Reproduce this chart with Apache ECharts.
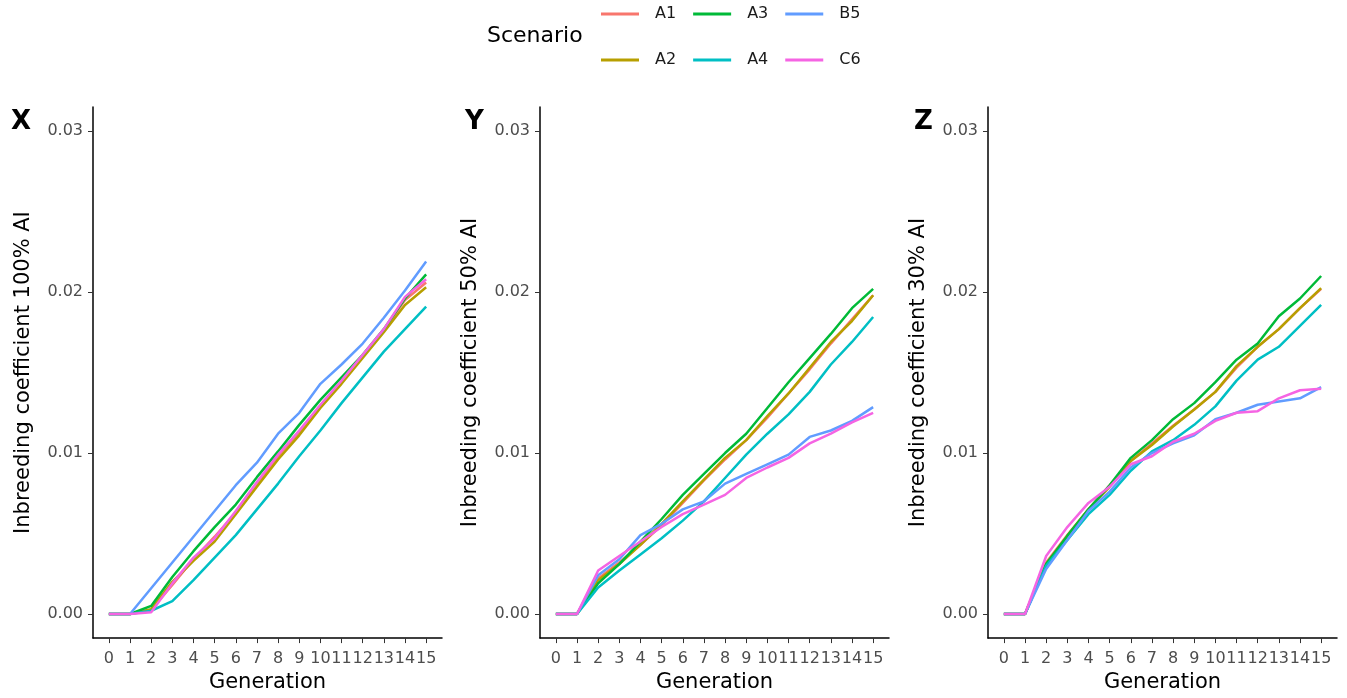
<!DOCTYPE html>
<html><head><meta charset="utf-8">
<script src="https://cdn.jsdelivr.net/npm/echarts@6/dist/echarts.min.js"></script>
<style>html,body{margin:0;padding:0;background:#fff}#c{width:1347px;height:698px}</style>
</head><body><div id="c"></div>
<script>
const generations = [0,1,2,3,4,5,6,7,8,9,10,11,12,13,14,15];
const scenarios = ['A1','A2','A3','A4','B5','C6'];
const scenarioColors = ['#F8766D','#B79F00','#00BA38','#00BFC4','#619CFF','#F564E3'];
const panelLetters = ['X','Y','Z'];
const yTitles = ['Inbreeding coefficient 100% AI','Inbreeding coefficient 50% AI','Inbreeding coefficient 30% AI'];
const yTickValues = [0, 0.01, 0.02, 0.03];
const xTitle = 'Generation';
const legendTitle = 'Scenario';

// Panel X (100% AI)
const X_A1 = [0,0,0.00025,0.0018,0.0034,0.0048,0.0063,0.0081,0.0098,0.0113,0.0129,0.0144,0.0160,0.0176,0.0195,0.0206];
const X_A2 = [0,0,0.0003,0.0020,0.0033,0.0045,0.0062,0.0079,0.0096,0.0111,0.0128,0.0143,0.0159,0.0175,0.0192,0.0203];
const X_A3 = [0,0,0.0005,0.0023,0.0039,0.0054,0.0068,0.0085,0.0101,0.01175,0.0133,0.0147,0.0161,0.0177,0.0196,0.0211];
const X_A4 = [0,0,0.0002,0.0008,0.0021,0.0035,0.0049,0.0065,0.0081,0.0098,0.0114,0.0131,0.0147,0.0163,0.0177,0.0191];
const X_B5 = [0,0,0.0016,0.0032,0.0048,0.0064,0.0080,0.0094,0.0112,0.0125,0.0143,0.0155,0.0168,0.0184,0.0201,0.0219];
const X_C6 = [0,0,0.0001,0.0019,0.0035,0.0047,0.0064,0.0082,0.0099,0.0114,0.0130,0.0145,0.0161,0.0177,0.0197,0.0208];

// Panel Y (50% AI)
const Y_A1 = [0,0,0.0022,0.0032,0.0043,0.0055,0.0069,0.0083,0.0096,0.0108,0.0122,0.0137,0.0152,0.0168,0.0183,0.0198];
const Y_A2 = [0,0,0.0021,0.0031,0.0043,0.0056,0.0070,0.00835,0.0097,0.0108,0.0123,0.0137,0.0153,0.0169,0.0182,0.0198];
const Y_A3 = [0,0,0.0019,0.0031,0.0045,0.0059,0.0074,0.0087,0.0100,0.0112,0.0128,0.0144,0.0159,0.0174,0.0190,0.0202];
const Y_A4 = [0,0,0.00165,0.0027,0.0037,0.0047,0.0058,0.0070,0.00845,0.0099,0.0112,0.0124,0.0138,0.0155,0.0169,0.01845];
const Y_B5 = [0,0,0.0024,0.0034,0.0049,0.0056,0.0065,0.0070,0.0081,0.0087,0.0093,0.0099,0.0110,0.0114,0.0120,0.01285];
const Y_C6 = [0,0,0.0027,0.0036,0.0045,0.0054,0.0062,0.0068,0.0074,0.00845,0.0091,0.0097,0.0106,0.0112,0.0119,0.0125];

// Panel Z (30% AI)
const Z_A1 = [0,0,0.0032,0.0049,0.0065,0.0080,0.0095,0.0106,0.0117,0.0127,0.0138,0.0153,0.0166,0.0177,0.0190,0.0202];
const Z_A2 = [0,0,0.0031,0.00485,0.0065,0.0079,0.0095,0.0105,0.01165,0.0127,0.0138,0.0154,0.0166,0.0177,0.0190,0.02025];
const Z_A3 = [0,0,0.0031,0.00485,0.0065,0.0080,0.0097,0.0108,0.0121,0.0131,0.0144,0.0158,0.0168,0.0185,0.0196,0.0210];
const Z_A4 = [0,0,0.0030,0.0046,0.0062,0.0074,0.0089,0.0101,0.0108,0.01175,0.0129,0.0145,0.0158,0.0166,0.0179,0.0192];
const Z_B5 = [0,0,0.0028,0.0046,0.0064,0.0076,0.0091,0.0100,0.0106,0.0111,0.0121,0.0125,0.0130,0.0132,0.0134,0.0141];
const Z_C6 = [0,0,0.0036,0.0054,0.0069,0.0079,0.0093,0.0098,0.0107,0.0112,0.0120,0.0125,0.0126,0.0134,0.0139,0.0140];

const panelData = [
  [X_A1, X_A2, X_A3, X_A4, X_B5, X_C6],
  [Y_A1, Y_A2, Y_A3, Y_A4, Y_B5, Y_C6],
  [Z_A1, Z_A2, Z_A3, Z_A4, Z_B5, Z_C6]
];

const FONT = 'DejaVu Sans';
const gridLefts = [93, 540, 988];
const letterLefts = [11, 465, 914];

const grids = gridLefts.map(l => ({left: l, top: 107, width: 349, height: 533, containLabel: false}));
const xAxes = gridLefts.map((l, i) => ({
  type: 'value', gridIndex: i, min: -0.75, max: 15.75,
  name: xTitle, nameLocation: 'middle', nameGap: 33,
  nameTextStyle: {fontFamily: FONT, fontSize: 21, color: '#000'},
  splitLine: {show: false},
  axisLine: {onZero: false, lineStyle: {color: '#000', width: 1.5}},
  axisTick: {show: true, length: 5, lineStyle: {color: '#333', width: 1}, customValues: generations},
  axisLabel: {fontFamily: FONT, fontSize: 16, color: '#4D4D4D', margin: 13, customValues: generations,
    formatter: v => String(v)}
}));
const yAxes = gridLefts.map((l, i) => ({
  type: 'value', gridIndex: i, min: -0.0015, max: 0.0315,
  name: yTitles[i], nameLocation: 'middle', nameRotate: 90, nameGap: 59,
  nameTextStyle: {fontFamily: FONT, fontSize: 21, color: '#000'},
  splitLine: {show: false},
  axisLine: {onZero: false, lineStyle: {color: '#000', width: 1.5}},
  axisTick: {show: true, length: 5, lineStyle: {color: '#333', width: 1}, customValues: yTickValues},
  axisLabel: {fontFamily: FONT, fontSize: 16, color: '#4D4D4D', margin: 10, customValues: yTickValues,
    formatter: v => v.toFixed(2)}
}));

const series = [];
panelData.forEach((arrs, p) => {
  arrs.forEach((vals, s) => {
    series.push({
      type: 'line', name: scenarios[s], xAxisIndex: p, yAxisIndex: p,
      data: generations.map((g, k) => [g, vals[k]]),
      symbol: 'none', showSymbol: false,
      lineStyle: {color: scenarioColors[s], width: 2.5},
      itemStyle: {color: scenarioColors[s]},
      emphasis: {disabled: true},
      animation: false
    });
  });
});

const legendBase = {
  orient: 'horizontal', left: 601, itemWidth: 38, itemHeight: 3, itemGap: 17, padding: 0,
  icon: 'rect',
  textStyle: {fontFamily: FONT, fontSize: 16, lineHeight: 18, color: '#1a1a1a', padding: [0, 0, 0, 11]}
};

const titles = [{text: legendTitle, left: 487, top: 25, padding: 0,
  textStyle: {fontFamily: FONT, fontSize: 22, fontWeight: 'normal', color: '#000'}}];
panelLetters.forEach((t, i) => titles.push({text: t, left: letterLefts[i], top: 109, padding: 0,
  textStyle: {fontFamily: FONT, fontSize: 26, fontWeight: 'bold', color: '#000'}}));

const chart = echarts.init(document.getElementById('c'), null, {renderer: 'canvas'});
chart.setOption({
  animation: false,
  backgroundColor: '#fff',
  color: scenarioColors,
  title: titles,
  legend: [
    Object.assign({}, legendBase, {data: ['A1','A3','B5'], top: 5}),
    Object.assign({}, legendBase, {data: ['A2','A4','C6'], top: 51})
  ],
  grid: grids,
  xAxis: xAxes,
  yAxis: yAxes,
  series: series
});
</script></body></html>
